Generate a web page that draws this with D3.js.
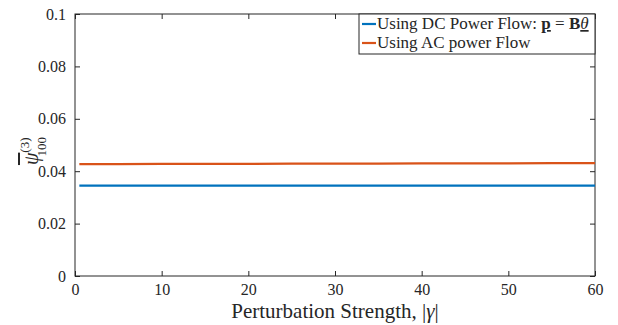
<!DOCTYPE html>
<html>
<head>
<meta charset="utf-8">
<script src="https://cdn.jsdelivr.net/npm/d3@7"></script>
<style>
  body { margin: 0; background: #fff; }
  svg text { font-family: "Liberation Serif", "DejaVu Serif", serif; fill: #262626; }
</style>
</head>
<body>
<div id="chart"></div>
<script>
// data
var gammaVals = [0.5, 5, 10, 15, 20, 25, 30, 35, 40, 45, 50, 55, 60];
var dcVals = [0.0345, 0.0345, 0.0345, 0.0345, 0.0345, 0.0345, 0.0345, 0.0345, 0.0345, 0.0345, 0.0345, 0.0345, 0.0345];
var acVals = [0.0427, 0.0427, 0.0428, 0.0428, 0.0428, 0.0429, 0.0429, 0.0429, 0.0430, 0.0430, 0.0430, 0.0431, 0.0431];
var xTicks = [0, 10, 20, 30, 40, 50, 60];
var yTicks = [0, 0.02, 0.04, 0.06, 0.08, 0.1];
var yTickLabels = ["0", "0.02", "0.04", "0.06", "0.08", "0.1"];

var width = 618, height = 325;
var mLeft = 75, mRight = 595, mTop = 14, mBottom = 276;

var svg = d3.select("#chart").append("svg")
    .attr("width", width)
    .attr("height", height);

var x = d3.scaleLinear().domain([0, 60]).range([mLeft, mRight]);
var y = d3.scaleLinear().domain([0, 0.1]).range([mBottom, mTop]);

// axes, MATLAB style: ticks inside, box on
var tickLen = 5;
var axisColor = "#262626";

svg.append("g")
    .attr("transform", "translate(0," + mBottom + ")")
    .call(d3.axisBottom(x).tickValues(xTicks).tickSize(-tickLen).tickPadding(8).tickFormat(d3.format("d")))
    .call(g => g.select(".domain").remove())
    .call(g => g.selectAll("line").attr("stroke", axisColor))
    .call(g => g.selectAll("text").attr("font-size", 16).attr("font-family", "Liberation Serif"));

svg.append("g")
    .attr("transform", "translate(0," + mTop + ")")
    .call(d3.axisTop(x).tickValues(xTicks).tickSize(-tickLen).tickFormat(""))
    .call(g => g.select(".domain").remove())
    .call(g => g.selectAll("line").attr("stroke", axisColor));

svg.append("g")
    .attr("transform", "translate(" + mLeft + ",0)")
    .call(d3.axisLeft(y).tickValues(yTicks).tickSize(-tickLen).tickPadding(9).tickFormat((d, i) => yTickLabels[i]))
    .call(g => g.select(".domain").remove())
    .call(g => g.selectAll("line").attr("stroke", axisColor))
    .call(g => g.selectAll("text").attr("font-size", 16).attr("font-family", "Liberation Serif"));

svg.append("g")
    .attr("transform", "translate(" + mRight + ",0)")
    .call(d3.axisRight(y).tickValues(yTicks).tickSize(-tickLen).tickFormat(""))
    .call(g => g.select(".domain").remove())
    .call(g => g.selectAll("line").attr("stroke", axisColor));

// box
svg.append("rect")
    .attr("x", mLeft).attr("y", mTop)
    .attr("width", mRight - mLeft).attr("height", mBottom - mTop)
    .attr("fill", "none")
    .attr("stroke", axisColor)
    .attr("stroke-width", 1);

// lines
var line = d3.line()
    .x((d, i) => x(gammaVals[i]))
    .y(d => y(d));

svg.append("path")
    .datum(dcVals)
    .attr("fill", "none")
    .attr("stroke", "#0072BD")
    .attr("stroke-width", 2.2)
    .attr("d", line);

svg.append("path")
    .datum(acVals)
    .attr("fill", "none")
    .attr("stroke", "#D95319")
    .attr("stroke-width", 2.2)
    .attr("d", line);

// axis labels
svg.append("text")
    .attr("x", (mLeft + mRight) / 2)
    .attr("y", 318)
    .attr("text-anchor", "middle")
    .attr("font-size", 21)
    .html('Perturbation Strength, |<tspan font-style="italic">γ</tspan>|');

var yl = svg.append("text")
    .attr("transform", "translate(38," + ((mTop + mBottom) / 2 + 6) + ") rotate(-90)")
    .attr("text-anchor", "middle")
    .attr("font-size", 20);
yl.append("tspan").attr("font-style", "italic").attr("text-decoration", "overline").text("ψ");
yl.append("tspan").attr("font-size", 13).attr("dy", -9).text("(3)");
yl.append("tspan").attr("font-size", 13).attr("dx", -19).attr("dy", 17).text("100");

// legend
var legX = 359, legY = 14, legW = 236, legH = 40;
var leg = svg.append("g");
leg.append("rect")
    .attr("x", legX).attr("y", legY)
    .attr("width", legW).attr("height", legH)
    .attr("fill", "#fff")
    .attr("stroke", axisColor)
    .attr("stroke-width", 1);

var legColors = ["#0072BD", "#D95319"];
legColors.forEach(function(c, i) {
    var ly = legY + 10 + i * 19;
    leg.append("line")
        .attr("x1", legX + 3).attr("x2", legX + 17)
        .attr("y1", ly).attr("y2", ly)
        .attr("stroke", c).attr("stroke-width", 2.2);
});

var t1 = leg.append("text")
    .attr("x", legX + 18).attr("y", legY + 15)
    .attr("font-size", 17);
t1.append("tspan").text("Using DC Power Flow:  ");
t1.append("tspan").attr("font-weight", "bold").attr("text-decoration", "underline").text("p");
t1.append("tspan").text(" = ");
t1.append("tspan").attr("font-weight", "bold").text("B");
t1.append("tspan").attr("font-style", "italic").attr("text-decoration", "underline").text("θ");

leg.append("text")
    .attr("x", legX + 18).attr("y", legY + 34)
    .attr("font-size", 17)
    .text("Using AC power Flow");
</script>
</body>
</html>
